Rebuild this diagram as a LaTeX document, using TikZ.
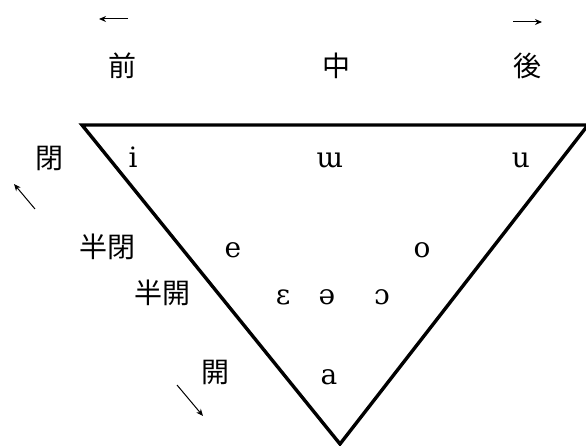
\documentclass[tikz,border=0pt]{standalone}
\usepackage{fontspec}
\newfontfamily\cjk{Noto Sans CJK JP}
\newfontfamily\ipa{DejaVu Serif}
\usetikzlibrary{arrows.meta}
\tikzset{
  kanji/.style={font=\cjk\fontsize{28}{28}\selectfont, inner sep=0pt, anchor=center},
  vowel/.style={font=\ipa\fontsize{28}{28}\selectfont, inner sep=0pt, anchor=base},
  edge/.style={line width=3.4pt, line join=miter, line cap=round},
  dirarrow/.style={line width=1pt, -{Stealth[length=7pt, width=6pt]}}
}
\begin{document}
\begin{tikzpicture}[x=1pt, y=-1pt]
\useasboundingbox (0,0) rectangle (586,446);
% triangle
\coordinate (tl) at (82,125);
\coordinate (tr) at (588,125);
\coordinate (bt) at (340,444);
\draw[edge] (tl) -- (tr) -- (bt) -- cycle;
% column labels
\node[kanji] (front) at (122,66) {前};
\node[kanji] (central) at (336,66) {中};
\node[kanji] (back) at (527,66) {後};
% row labels
\node[kanji] (close) at (49,158) {閉};
\node[kanji] (closemid) at (107,247) {半閉};
\node[kanji] (openmid) at (162,293) {半開};
\node[kanji] (open) at (215,372) {開};
% vowels (base line positions)
\node[vowel] (vi) at (133,168) {i};
\node[vowel] (vuu) at (330,168) {ɯ};
\node[vowel] (vu) at (521,168) {u};
\node[vowel] (ve) at (233,258) {e};
\node[vowel] (vo) at (422,258) {o};
\node[vowel] (veps) at (283,305) {ɛ};
\node[vowel] (vschwa) at (327,305) {ə};
\node[vowel] (vopeno) at (382,305) {ɔ};
\node[vowel] (va) at (329,384) {a};
% direction arrows
\coordinate (la1) at (128,19);
\coordinate (la2) at (99,19);
\draw[dirarrow] (la1) -- (la2);
\coordinate (ra1) at (513,22);
\coordinate (ra2) at (542,22);
\draw[dirarrow] (ra1) -- (ra2);
\coordinate (ua1) at (35,209);
\coordinate (ua2) at (14,184);
\draw[dirarrow] (ua1) -- (ua2);
\coordinate (da1) at (177,385);
\coordinate (da2) at (203,416);
\draw[dirarrow] (da1) -- (da2);
\end{tikzpicture}
\end{document}
